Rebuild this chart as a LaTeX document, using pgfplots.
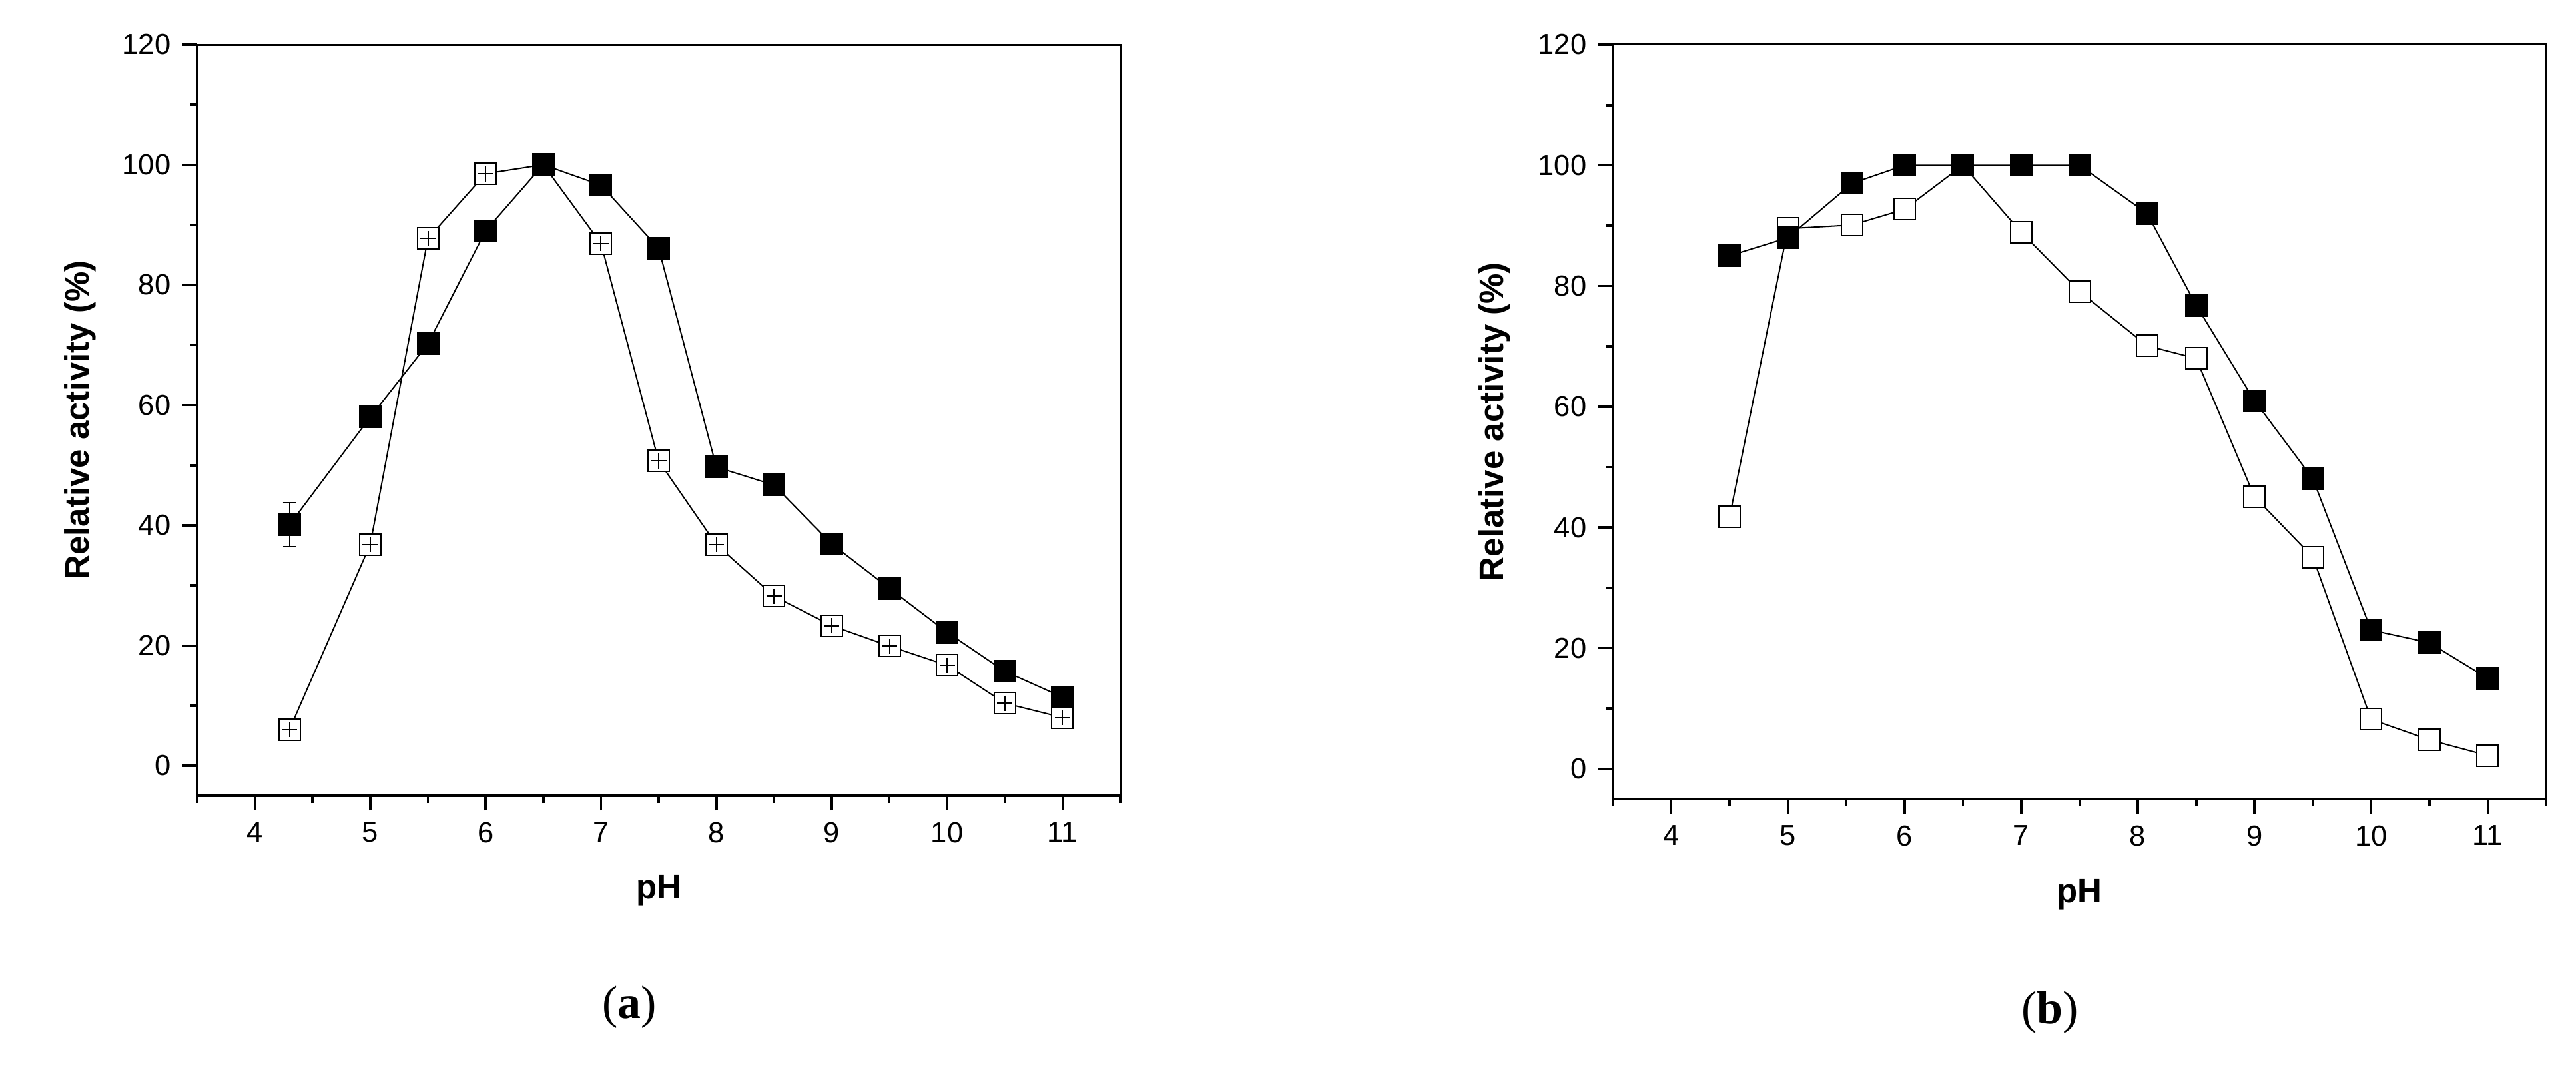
\documentclass[border=0pt]{standalone}
\usepackage{fontspec}
\setmainfont{Liberation Sans}
\newfontfamily\capfont{Liberation Serif}
\usepackage{pgfplots}
\pgfplotsset{compat=1.18}

\pgfplotsset{
  ph/.style={
    scale only axis,
    xmin=3.5, xmax=11.5, ymin=-5, ymax=120,
    xtick={4,...,11}, ytick={0,20,...,120},
    minor xtick={3.5,4.5,...,11.5}, minor ytick={10,30,...,110},
    tick pos=left, tick align=outside,
    major tick length=4.4pt, minor tick length=2.2pt,
    every tick/.style={black, line width=0.75pt},
    axis line style={line width=0.6pt},
    tick label style={font=\fontsize{8.7}{10}\selectfont},
    label style={font=\bfseries\fontsize{10.2}{12}\selectfont},
    /pgf/number format/assume math mode=true,
    xlabel={pH}, ylabel={Relative activity (\%)},
    xlabel style={at={(axis description cs:0.5,-0.126)}, anchor=center},
    ylabel style={at={(axis description cs:-0.127,0.5)}, anchor=center},
    clip=false,
    after end axis/.code={\draw[line width=0.95pt] (rel axis cs:0,0) -- (rel axis cs:1,0);},
  },
  filled/.style={black, line width=0.4pt, mark=square*, mark size=3.2pt,
    mark options={solid, fill=black}},
  hollow/.style={black, line width=0.4pt, mark=square*, mark size=3.2pt,
    mark options={solid, fill=white}},
}

\begin{document}
\begin{tikzpicture}[x=1pt,y=1pt]
\useasboundingbox (0,0) rectangle (773.6,322.4);

% (a)
\begin{axis}[ph, at={(59.2pt,83.4pt)}, anchor=south west,
  width=277.2pt, height=225.6pt]
\addplot[hollow] coordinates {
  (4.3,6.0) (5,36.8) (5.5,87.7) (6,98.5) (6.5,100) (7,86.9) (7.5,50.7)
  (8,36.8) (8.5,28.2) (9,23.3) (9.5,19.9) (10,16.7) (10.5,10.4) (11,8.0)
};
% small error bars drawn inside the open squares
\addplot[only marks, mark=+, mark size=2.3pt, line width=0.4pt] coordinates {
  (4.3,6.0) (5,36.8) (5.5,87.7) (6,98.5) (7,86.9) (7.5,50.7)
  (8,36.8) (8.5,28.2) (9,23.3) (9.5,19.9) (10,16.7) (10.5,10.4) (11,8.0)
};
\addplot[filled, error bars/.cd, y dir=both, y explicit,
  error bar style={line width=0.4pt}, error mark options={rotate=90, mark size=2pt}]
  coordinates {
  (4.3,40.1) +- (0,3.7)
  (5,58.0) (5.5,70.2) (6,89.0) (6.5,100) (7,96.6) (7.5,86.1)
  (8,49.7) (8.5,46.7) (9,36.9) (9.5,29.5) (10,22.2) (10.5,15.7) (11,11.4)
};
\end{axis}

% (b)
\begin{axis}[ph, at={(484.4pt,82.4pt)}, anchor=south west,
  width=280.2pt, height=226.6pt]
\addplot[hollow] coordinates {
  (4.5,41.8) (5,89.5) (5.55,90.1) (6,92.7) (6.5,100) (7,88.9) (7.5,79.1)
  (8.08,70.1) (8.5,68.0) (9,45.1) (9.5,35.1) (10,8.2) (10.5,4.8) (11,2.2)
};
\addplot[filled] coordinates {
  (4.5,85.0) (5,88.0) (5.55,97.0) (6,100) (6.5,100) (7,100) (7.5,100)
  (8.08,92.0) (8.5,76.8) (9,61.0) (9.5,48.1) (10,23.0) (10.5,20.9) (11,15.0)
};
\end{axis}

\node[font=\capfont\fontsize{14}{16}\selectfont] at (189,19.8) {(\textbf{a})};
\node[font=\capfont\fontsize{14}{16}\selectfont] at (615.6,18.2) {(\textbf{b})};
\end{tikzpicture}
\end{document}
